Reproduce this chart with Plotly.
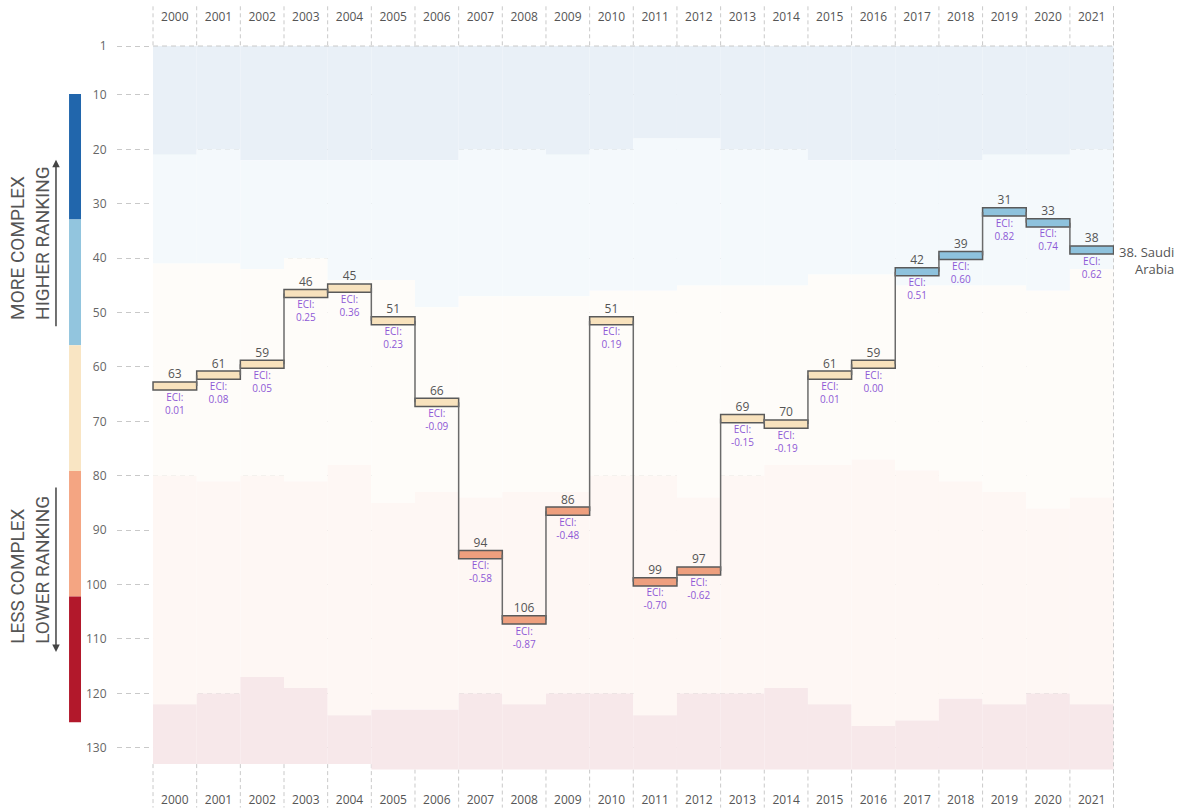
import plotly.graph_objects as go

years = list(range(2000, 2022))
ranks = [63, 61, 59, 46, 45, 51, 66, 94, 106, 86, 51, 99, 97, 69, 70, 61, 59, 42, 39, 31, 33, 38]
eci = [0.01, 0.08, 0.05, 0.25, 0.36, 0.23, -0.09, -0.58, -0.87, -0.48, 0.19,
       -0.70, -0.62, -0.15, -0.19, 0.01, 0.00, 0.51, 0.60, 0.82, 0.74, 0.62]

# last rank that falls in each of the first four complexity bands, per year
band1_end = [20, 19, 21, 21, 21, 21, 21, 19, 19, 20, 19, 17, 17, 19, 19, 21, 21, 21, 21, 20, 20, 19]
band2_end = [40, 40, 41, 39, 43, 43, 48, 46, 46, 46, 45, 45, 44, 44, 44, 42, 42, 44, 44, 44, 45, 41]
band3_end = [79, 80, 79, 80, 77, 84, 82, 83, 82, 82, 79, 79, 83, 79, 77, 77, 76, 78, 80, 82, 85, 83]
band4_end = [121, 119, 116, 118, 123, 122, 122, 119, 121, 119, 119, 123, 119, 119, 118, 121, 125, 124, 120, 121, 119, 121]
n_countries = [132, 132, 132, 132, 132, 133, 133, 133, 133, 133, 133,
               133, 133, 133, 133, 133, 133, 133, 133, 133, 133, 133]

country_label = "38. Saudi<br>Arabia"
y_ticks = [1, 10, 20, 30, 40, 50, 60, 70, 80, 90, 100, 110, 120, 130]

band_colors = ["#2166ac", "#92c5de", "#f9e4c2", "#f4a582", "#b2182b"]
bar_colors = ["#2166ac", "#8ec2dd", "#f8e2bd", "#ee9f7e", "#b2182b"]
GRID = "#c9c9c9"
TXT = "#555555"
ECI_COL = "#8e59d6"


def tint(hex_color, a=0.1):
    h = hex_color.lstrip("#")
    rgb = [int(h[k:k + 2], 16) for k in (0, 2, 4)]
    return "rgb(%d,%d,%d)" % tuple(round(255 - a * (255 - c)) for c in rgb)


bg_colors = [tint(c, a) for c, a in zip(band_colors, [0.1, 0.1, 0.1, 0.09, 0.1])]

fig = go.Figure()

# step connectors (vertical parts only; the bars form the horizontal parts)
cx, cy = [], []
for i in range(len(years) - 1):
    cx += [i + 1, i + 1, None]
    cy += [ranks[i] + 0.5, ranks[i + 1] + 0.5, None]
fig.add_trace(go.Scatter(x=cx, y=cy, mode="lines", line=dict(color="#6b6b6b", width=1.5),
                         hoverinfo="skip"))

# band of each year's rank decides the bar colour
bands = []
for i, r in enumerate(ranks):
    ends = [band1_end[i], band2_end[i], band3_end[i], band4_end[i]]
    bands.append(sum(r > e for e in ends))

xs = [i + 0.5 for i in range(len(years))]
fig.add_trace(go.Bar(
    x=xs, y=[1.5] * len(ranks), base=[r - 0.25 for r in ranks], width=1,
    marker=dict(color=[bar_colors[b] for b in bands], line=dict(color="#5a5a5a", width=1.5)),
    hovertext=[f"{y}: {r}" for y, r in zip(years, ranks)], hoverinfo="text",
))

fig.add_trace(go.Scatter(
    x=xs, y=[r - 0.35 for r in ranks], mode="text", text=[str(r) for r in ranks],
    textposition="top center", textfont=dict(size=12, color=TXT), hoverinfo="skip"))
fig.add_trace(go.Scatter(
    x=xs, y=[r + 1.8 for r in ranks], mode="text",
    text=[f"ECI:<br>{v:.2f}" for v in eci],
    textposition="bottom center", textfont=dict(size=10, color=ECI_COL), hoverinfo="skip"))

# year headers, top and bottom
for yy in (-4.15, 139.8):
    fig.add_trace(go.Scatter(
        x=xs, y=[yy] * len(years), mode="text", text=[str(y) for y in years],
        textposition="middle center", textfont=dict(size=12, color=TXT), hoverinfo="skip"))

shapes = []
dash = "4px,3px"
# column separators in the header/footer
for i in range(len(years) + 1):
    shapes.append(dict(type="line", x0=i, x1=i, y0=-6.3, y1=1, layer="between",
                       line=dict(color=GRID, width=1, dash=dash)))
    adj = [n_countries[j] for j in (i - 1, i) if 0 <= j < len(years)]
    shapes.append(dict(type="line", x0=i, x1=i, y0=min(adj) + 1, y1=141, layer="between",
                       line=dict(color=GRID, width=1, dash=dash)))

# background complexity bands per year
for i in range(len(years)):
    edges = [1, band1_end[i] + 1, band2_end[i] + 1, band3_end[i] + 1, band4_end[i] + 1,
             n_countries[i] + 1]
    for b in range(5):
        shapes.append(dict(type="rect", x0=i, x1=i + 1, y0=edges[b], y1=edges[b + 1],
                           fillcolor=bg_colors[b], line=dict(width=0), layer="between"))

# frame: top and right
shapes.append(dict(type="line", x0=0, x1=22, y0=1, y1=1, layer="between",
                   line=dict(color=GRID, width=1, dash="5px,4px")))
shapes.append(dict(type="line", x0=22, x1=22, y0=-6.3, y1=141, layer="between",
                   line=dict(color=GRID, width=1, dash=dash)))

# legend colour scale on the left
scale_top, scale_bottom = 9.8, 125.3
step = (scale_bottom - scale_top) / 5
for b in range(5):
    shapes.append(dict(type="rect", xref="paper", yref="y", x0=-0.0481, x1=-0.0361,
                       y0=scale_top + b * step, y1=scale_top + (b + 1) * step,
                       fillcolor=band_colors[b] if b != 2 else "#f9e5c3",
                       line=dict(width=0), layer="above"))

annotations = [
    dict(xref="paper", yref="y", x=-0.0873, y=37.2, xanchor="center", yanchor="middle",
         text="MORE COMPLEX<br>HIGHER RANKING",
         textangle=-90, showarrow=False, align="left",
         font=dict(family="Roboto", size=19, color=TXT)),
    dict(xref="paper", yref="y", x=-0.0873, y=97.3, xanchor="center", yanchor="middle",
         text="LESS COMPLEX<br>LOWER RANKING",
         textangle=-90, showarrow=False, align="left",
         font=dict(family="Roboto", size=19, color=TXT)),
    dict(xref="paper", yref="y", x=-0.0612, y=21.9, ax=0, ay=168, text="", showarrow=True,
         arrowhead=2, arrowsize=1, arrowwidth=1.5, arrowcolor="#444"),
    dict(xref="paper", yref="y", x=-0.0612, y=112.4, ax=0, ay=-166, text="", showarrow=True,
         arrowhead=2, arrowsize=1, arrowwidth=1.5, arrowcolor="#444"),
    dict(x=22, y=36.8, xanchor="left", yanchor="top", xshift=3, text=country_label,
         showarrow=False, align="right", font=dict(size=13, color=TXT)),
]

fig.update_layout(
    width=1187, height=808,
    margin=dict(l=117, r=73, t=5, b=0),
    paper_bgcolor="white", plot_bgcolor="white",
    font=dict(family="Open Sans", color=TXT),
    showlegend=False,
    shapes=shapes, annotations=annotations,
    xaxis=dict(range=[-0.825, 22.01], visible=False, fixedrange=True),
    yaxis=dict(range=[141.07, -6.54], tickvals=y_ticks, ticktext=[str(t) for t in y_ticks],
               showgrid=True, gridcolor=GRID, griddash="5px,4px", gridwidth=1,
               zeroline=False, showline=False, ticks="outside", ticklen=7,
               tickcolor="rgba(0,0,0,0)", tickfont=dict(size=12, color="#666"),
               fixedrange=True),
)

fig.write_html("out.html", config={"displayModeBar": False},
               post_script="document.body.style.margin='0';")
